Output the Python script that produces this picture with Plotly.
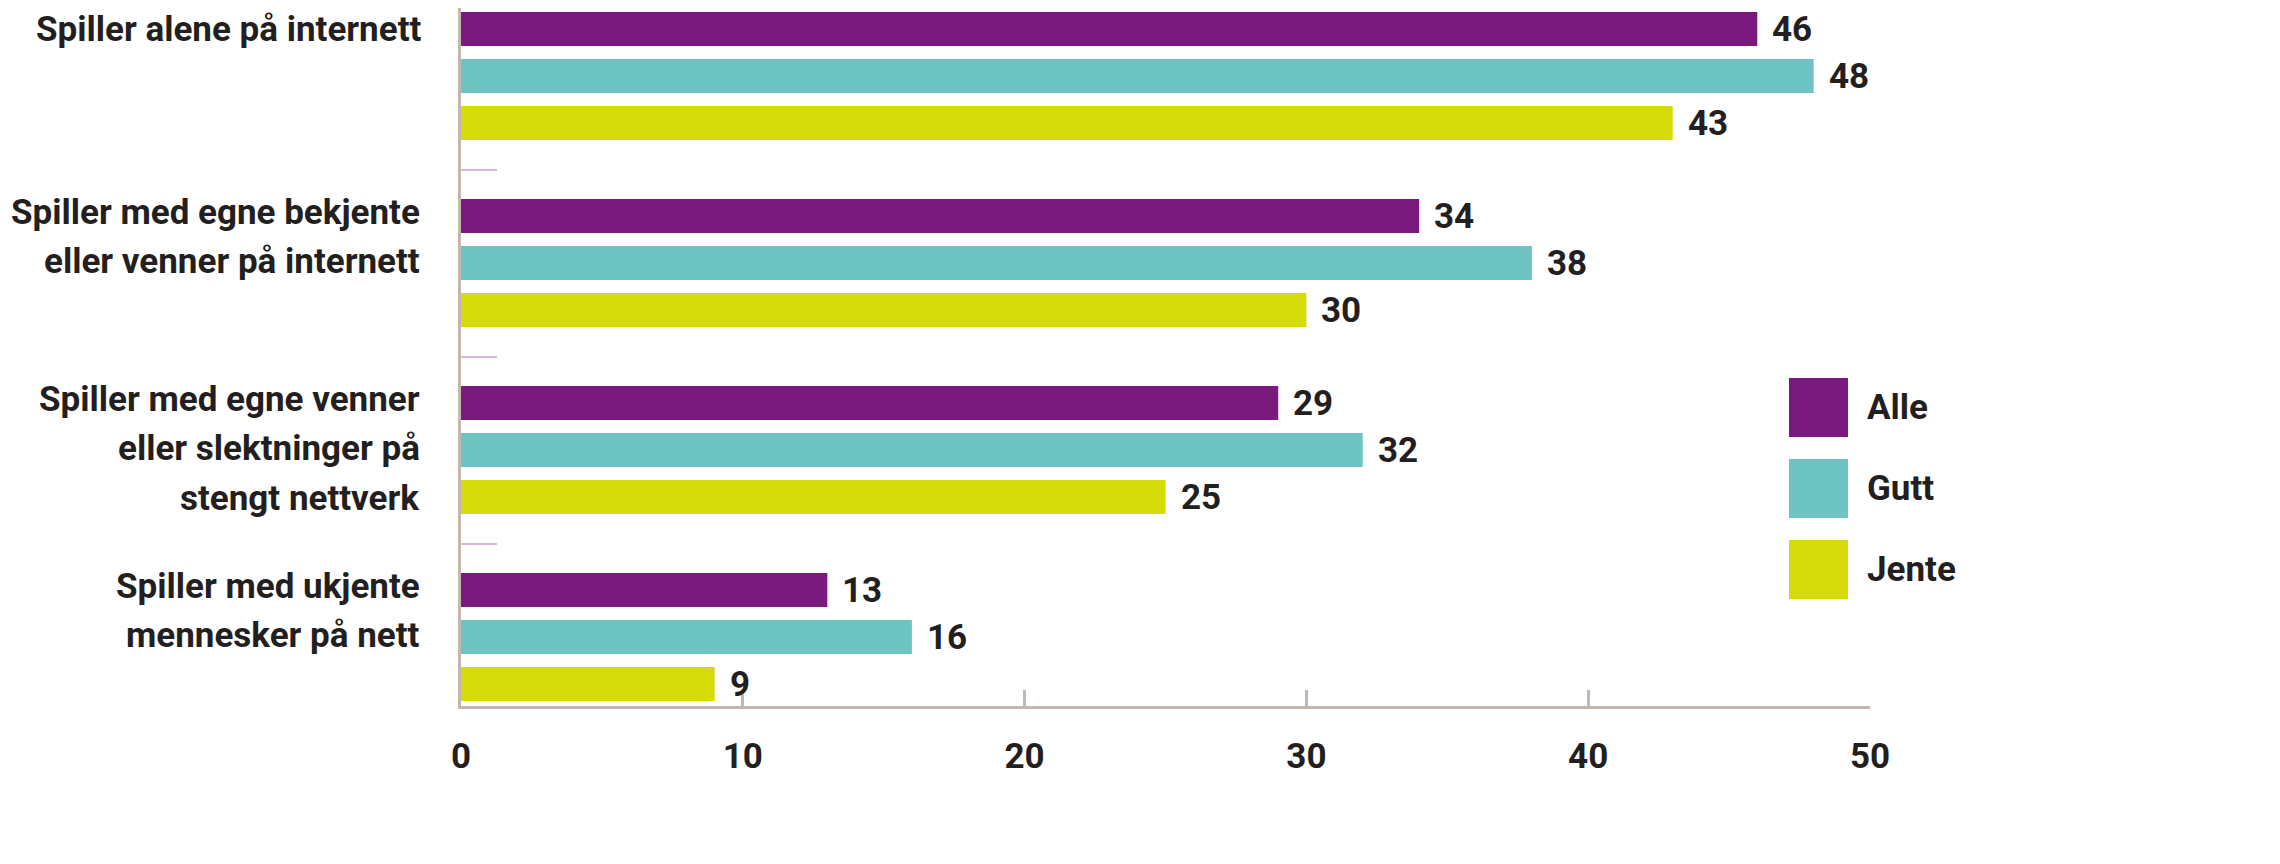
import plotly.graph_objects as go

categories = [
    "Spiller alene på internett",
    "Spiller med egne bekjente eller venner på internett",
    "Spiller med egne venner eller slektninger på stengt nettverk",
    "Spiller med ukjente mennesker på nett",
]
label_lines = [
    ["Spiller alene på internett"],
    ["Spiller med egne bekjente", "eller venner på internett"],
    ["Spiller med egne venner", "eller slektninger på", "stengt nettverk"],
    ["Spiller med ukjente", "mennesker på nett"],
]
series_names = ["Alle", "Gutt", "Jente"]
alle = [46, 34, 29, 13]
gutt = [48, 38, 32, 16]
jente = [43, 30, 25, 9]
x_ticks = [0, 10, 20, 30, 40, 50]

colors = ["#7a1a7e", "#6ec4c3", "#d6dc0a"]
FONT = "Roboto, sans-serif"
FS = 35
TXT = "#231f20"
AXIS = "#c2b8ad"

OFF = 8  # page body margin
W, H = 2280 - OFF, 864 - OFF
L, R, T, B = 461 - OFF, 1870 - OFF, 0, 706 - OFF  # plot area in figure px

def px_x(p):  # screen px -> paper
    return (p - OFF - L) / (R - L)

def px_y(p):
    return (B - (p - OFF)) / (B - T)

fig = go.Figure()
for name, vals, col in zip(series_names, [alle, gutt, jente], colors):
    fig.add_trace(go.Bar(
        y=categories, x=vals, name=name, orientation="h",
        marker=dict(color=col, line=dict(width=0)),
        showlegend=False,
    ))

annotations = []
# value labels
for i, vals in enumerate([alle, gutt, jente]):
    for c, v in zip(categories, vals):
        annotations.append(dict(
            x=v, y=c, xref="x", yref="y", text=str(v), showarrow=False,
            xanchor="left", yanchor="middle", xshift=13, yshift=-(i - 1) * 47,
            font=dict(family=FONT, size=FS, color=TXT, weight="bold"),
        ))
# category labels
for ci, (c, lines) in enumerate(zip(categories, label_lines)):
    for j, line in enumerate(lines):
        font = dict(family=FONT, size=FS, color=TXT, weight="bold")
        if ci == 0 and len(lines) == 1:
            annotations.append(dict(
                x=0, y=1, xref="paper", yref="paper", text=line, showarrow=False,
                xanchor="right", yanchor="top", xshift=-39, borderpad=0,
                font=font,
            ))
        else:
            annotations.append(dict(
                x=0, y=c, xref="paper", yref="y", text=line, showarrow=False,
                xanchor="right", yanchor="middle", xshift=-39,
                yshift=51 - j * 49.5, font=font,
            ))

# legend (custom large swatches)
shapes = []
for k, (name, col) in enumerate(zip(series_names, colors)):
    top = 378 + k * 81
    shapes.append(dict(
        type="rect", xref="paper", yref="paper",
        x0=px_x(1789), x1=px_x(1848), y0=px_y(top + 59), y1=px_y(top),
        fillcolor=col, line=dict(width=0),
    ))
    annotations.append(dict(
        x=px_x(1865), y=px_y(top + 29.5), xref="paper", yref="paper",
        text=name, showarrow=False, xanchor="left", yanchor="middle",
        font=dict(family=FONT, size=FS, color=TXT, weight="bold"),
    ))

c0 = 76 - OFF  # first category centre in figure px
unit = 187
fig.update_layout(
    width=W, height=H,
    margin=dict(l=L, r=W - R, t=T, b=H - B, pad=0),
    plot_bgcolor="white", paper_bgcolor="white",
    barmode="group", bargap=0.246, bargroupgap=0.277,
    annotations=annotations, shapes=shapes,
    showlegend=False,
)
fig.update_xaxes(
    range=[0, 50], tickvals=x_ticks, showgrid=False, zeroline=False,
    showline=True, linecolor=AXIS, linewidth=3,
    ticks="inside", ticklen=16, tickwidth=3, tickcolor=AXIS,
    ticklabelstandoff=17,
    tickfont=dict(family=FONT, size=FS, color=TXT, weight="bold"),
)
fig.update_yaxes(
    type="category", categoryorder="array", categoryarray=categories,
    range=[(B - c0) / unit, (T - c0) / unit], showgrid=False, zeroline=False,
    showline=True, linecolor=AXIS, linewidth=3,
    showticklabels=False, ticks="inside", tickson="boundaries",
    ticklen=36, tickwidth=1.5, tickcolor="#d9b8e0",
)

fig.write_html("out.html")
